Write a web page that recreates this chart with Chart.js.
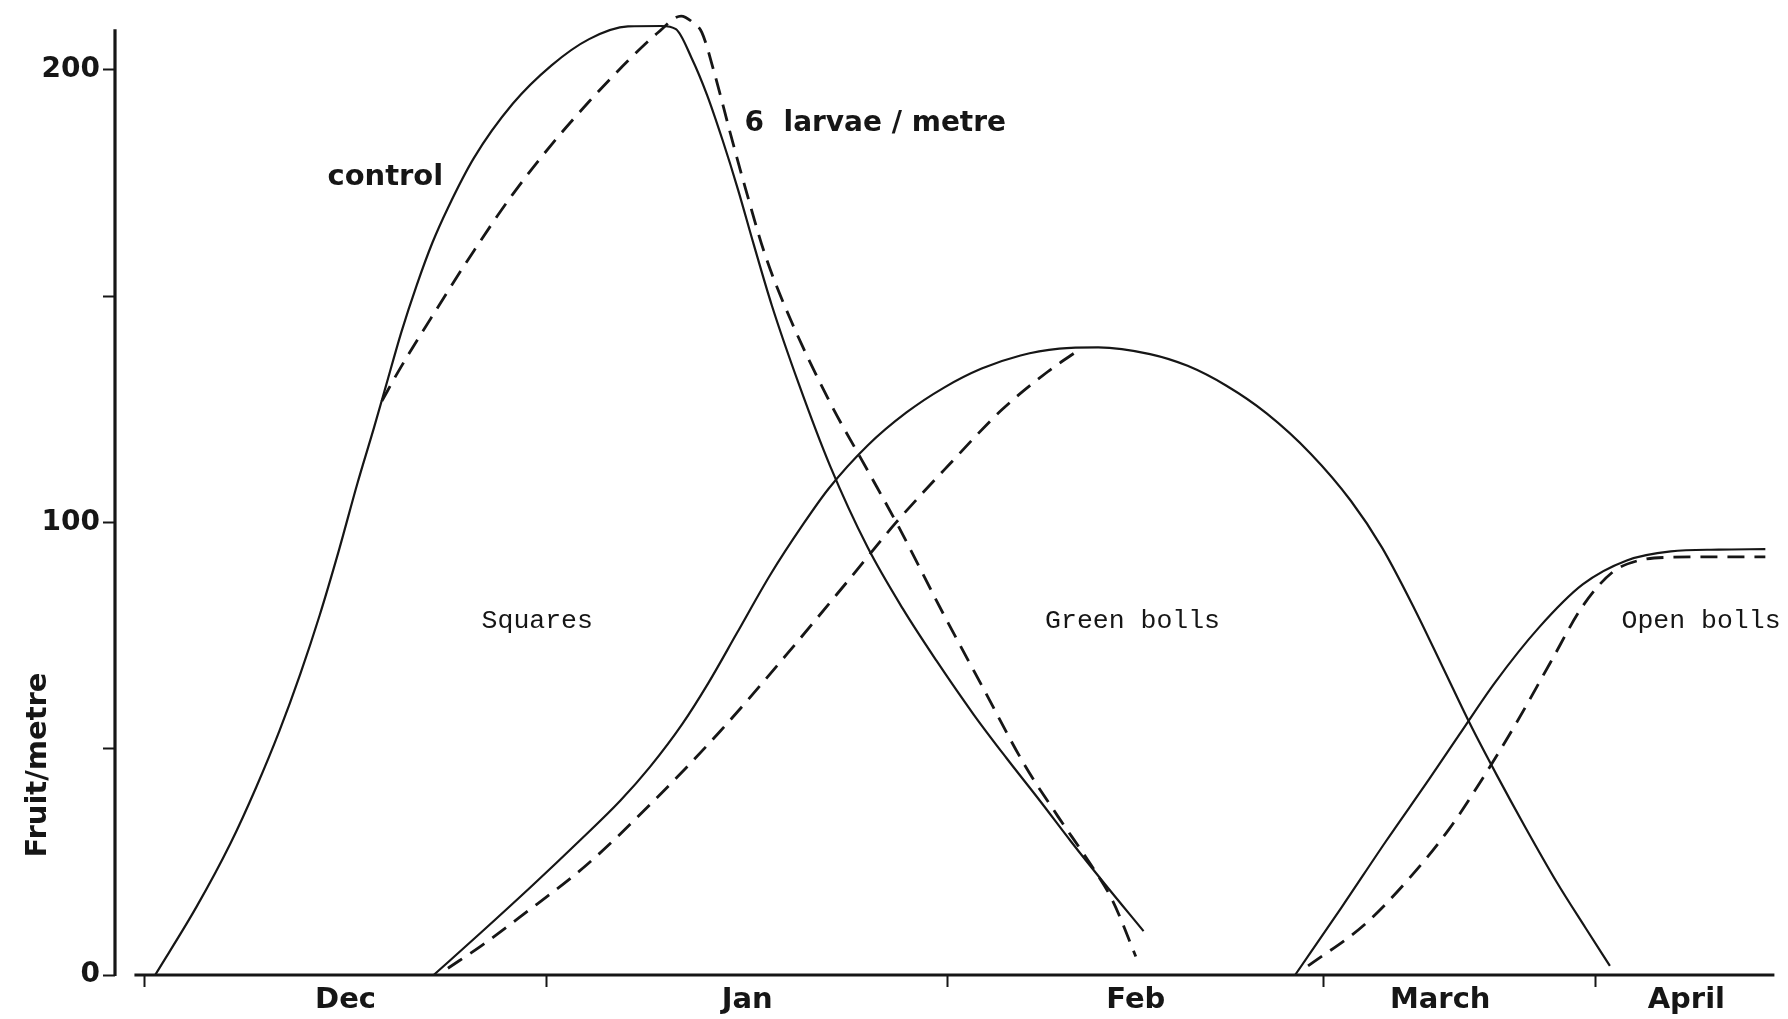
<!DOCTYPE html>
<html><head><meta charset="utf-8">
<script src="https://cdn.jsdelivr.net/npm/chart.js@4.4.1/dist/chart.umd.min.js"></script>
<style>html,body{margin:0;padding:0;background:#fff;overflow:hidden}canvas{display:block}</style>
</head><body>
<canvas id="c" width="1788" height="1019"></canvas>
<script>
// ---- axis data ----
const monthNames = ['Dec', 'Jan', 'Feb', 'March', 'April'];
const monthBoundaries = [0, 31, 62, 91, 112];          // days from start of Dec
const monthCentres = [15.5, 46.5, 76.5, 100, 119];
const yTickValues = [0, 50, 100, 150, 200];
const yTickLabels = ['0', '', '100', '', '200'];

// ---- series (x = days from 1 Dec, y = fruit per metre) ----
const squaresControlX = [0.8, 4.0, 6.6, 8.6, 10.4, 12.0, 13.5, 15.0, 16.4, 17.7, 18.6, 19.8, 21.0, 22.2, 23.4, 25.4, 28.4, 31.4, 34.3, 37.3, 39.9, 41.0, 42.2, 43.4, 44.6, 45.8, 47.0, 48.4, 50.5, 52.9, 55.8, 58.5, 61.1, 64.0, 66.5, 69.1, 71.5, 74.0, 77.1];
const squaresControlY = [0, 15.1, 29.0, 41.5, 54.0, 66.5, 79.5, 94.0, 108.5, 121.0, 130.0, 142.0, 152.5, 161.8, 169.5, 180.5, 192.5, 201.0, 206.8, 209.6, 209.7, 209.0, 202.7, 194.5, 184.5, 173.5, 161.5, 148.0, 130.5, 112.5, 94.5, 81.0, 69.5, 57.5, 48.0, 38.5, 29.5, 20.5, 9.7];

const squaresLarvaeX = [18.3, 19.5, 22.5, 25.4, 28.4, 31.4, 34.3, 37.3, 39.6, 41.4, 42.3, 43.0, 44.0, 45.2, 46.4, 47.9, 49.9, 52.9, 55.8, 58.2, 61.7, 64.7, 67.9, 70.5, 73.0, 74.7, 76.5];
const squaresLarvaeY = [126.8, 133.0, 147.0, 160.0, 172.5, 183.5, 193.0, 202.0, 208.2, 211.9, 210.5, 208.3, 199.0, 186.0, 173.5, 159.0, 144.5, 126.5, 111.5, 99.0, 79.5, 63.5, 46.5, 35.0, 24.5, 16.5, 4.1];

const greenControlX = [22.3, 26.0, 30.0, 33.5, 36.7, 39.0, 41.5, 43.5, 45.7, 48.3, 50.8, 52.8, 55.8, 58.8, 61.7, 64.6, 67.6, 70.6, 73.6, 77.6, 80.5, 83.5, 86.6, 90.0, 93.1, 95.5, 98.0, 100.2, 102.3, 104.4, 106.6, 109.0, 111.2, 113.1];
const greenControlY = [0, 9.5, 20.0, 29.5, 38.5, 46.0, 55.5, 64.5, 75.5, 88.5, 99.5, 107.5, 117.0, 124.3, 129.8, 134.0, 136.9, 138.4, 138.7, 137.2, 134.6, 130.2, 124.1, 115.2, 104.8, 94.5, 81.0, 68.0, 55.5, 44.0, 32.5, 20.5, 10.5, 2.0];

const greenLarvaeX = [23.4, 26.0, 29.0, 34.1, 39.3, 44.4, 49.6, 54.4, 58.0, 62.1, 66.2, 69.7, 72.2];
const greenLarvaeY = [1.5, 6.5, 12.9, 24.3, 38.5, 53.8, 71.0, 87.5, 100.0, 112.8, 125.0, 133.3, 138.3];

const openControlX = [88.8, 92.4, 95.8, 99.2, 101.5, 104.2, 107.6, 111.0, 114.4, 117.8, 121.5, 125.1];
const openControlY = [0, 15.0, 29.5, 43.5, 53.2, 64.5, 76.7, 86.3, 91.6, 93.6, 94.0, 94.1];

const openLarvaeX = [89.8, 94.1, 97.5, 100.7, 103.4, 105.9, 108.5, 111.0, 113.3, 115.2, 117.8, 121.5, 125.1];
const openLarvaeY = [2.0, 11.0, 21.0, 32.3, 44.0, 55.8, 69.0, 81.5, 89.0, 91.5, 92.3, 92.4, 92.4];

// ---- annotations (text in data coordinates) ----
const notes = [
  {text: 'control', x: 14.1, y: 176.3, font: 'bold 29px "DejaVu Sans"'},
  {text: '6  larvae / metre', x: 46.3, y: 188.2, font: 'bold 28px "DejaVu Sans"'},
  {text: 'Squares', x: 26.0, y: 78.2, font: '26.5px "Liberation Mono"'},
  {text: 'Green bolls', x: 69.5, y: 78.2, font: '26.5px "Liberation Mono"'},
  {text: 'Open bolls', x: 114.0, y: 78.2, font: '26.5px "Liberation Mono"'}
];
const yTitle = 'Fruit/metre';

const INK = '#161616';
const xy = (xs, ys) => xs.map((v, i) => ({x: v, y: ys[i]}));
const solid = (xs, ys) => ({data: xy(xs, ys), borderColor: INK, borderWidth: 2.2, borderDash: [], pointRadius: 0, fill: false, cubicInterpolationMode: 'monotone', clip: false});
const dashed = (xs, ys) => ({data: xy(xs, ys), borderColor: INK, borderWidth: 2.8, borderDash: [17, 10], pointRadius: 0, fill: false, cubicInterpolationMode: 'monotone', clip: false});

const decor = {
  id: 'decor',
  afterDraw(chart) {
    const {ctx, scales: {x, y}, chartArea} = chart;
    ctx.save();
    ctx.strokeStyle = INK;
    ctx.lineWidth = 3.2;
    // y axis line
    ctx.beginPath();
    ctx.moveTo(chartArea.left, y.getPixelForValue(209));
    ctx.lineTo(chartArea.left, y.getPixelForValue(0) + 1);
    ctx.stroke();
    // x axis line
    ctx.beginPath();
    ctx.moveTo(x.getPixelForValue(-0.8), y.getPixelForValue(0));
    ctx.lineTo(x.getPixelForValue(125.8), y.getPixelForValue(0));
    ctx.stroke();
    // notes
    ctx.fillStyle = INK;
    ctx.textBaseline = 'middle';
    ctx.textAlign = 'left';
    notes.forEach(n => {
      ctx.font = n.font;
      ctx.fillText(n.text, x.getPixelForValue(n.x), y.getPixelForValue(n.y));
    });
    // y title
    ctx.font = 'bold 29px "DejaVu Sans"';
    ctx.translate(38, 765);
    ctx.rotate(-Math.PI / 2);
    ctx.textAlign = 'center';
    ctx.fillText(yTitle, 0, 0);
    ctx.restore();
  }
};

new Chart(document.getElementById('c'), {
  type: 'line',
  data: {
    datasets: [
      solid(squaresControlX, squaresControlY),
      dashed(squaresLarvaeX, squaresLarvaeY),
      solid(greenControlX, greenControlY),
      dashed(greenLarvaeX, greenLarvaeY),
      solid(openControlX, openControlY),
      dashed(openLarvaeX, openLarvaeY)
    ]
  },
  options: {
    responsive: false,
    devicePixelRatio: 1,
    animation: false,
    events: [],
    layout: {padding: {top: 2, right: 11, left: 0, bottom: 0}},
    plugins: {legend: {display: false}, tooltip: {enabled: false}},
    scales: {
      x: {
        type: 'linear', min: -2.3, max: 126,
        border: {display: false},
        grid: {
          drawOnChartArea: false, drawTicks: true, tickLength: 12, tickWidth: 2,
          tickColor: (c) => (c.tick && monthBoundaries.includes(c.tick.value)) ? INK : 'rgba(0,0,0,0)'
        },
        afterBuildTicks: (s) => {
          s.ticks = monthBoundaries.concat(monthCentres).sort((a, b) => a - b).map(v => ({value: v}));
        },
        afterFit: (s) => { s.height = 44; s.paddingLeft = 0; s.paddingRight = 0; },
        ticks: {
          autoSkip: false, maxRotation: 0, minRotation: 0, padding: -4,
          color: INK, font: {family: 'DejaVu Sans', weight: 'bold', size: 29},
          callback: (v) => { const i = monthCentres.indexOf(v); return i >= 0 ? monthNames[i] : ''; }
        }
      },
      y: {
        type: 'linear', min: 0, max: 215,
        border: {display: false},
        grid: {drawOnChartArea: false, drawTicks: true, tickLength: 12, tickWidth: 2, tickColor: INK},
        afterBuildTicks: (s) => { s.ticks = yTickValues.map(v => ({value: v})); },
        afterFit: (s) => { s.width = 115; s.paddingTop = 0; s.paddingBottom = 0; },
        ticks: {
          padding: 3, color: INK, font: {family: 'DejaVu Sans', weight: 'bold', size: 28},
          callback: (v) => { const i = yTickValues.indexOf(v); return i >= 0 ? yTickLabels[i] : ''; }
        }
      }
    }
  },
  plugins: [decor]
});
</script>
</body></html>
